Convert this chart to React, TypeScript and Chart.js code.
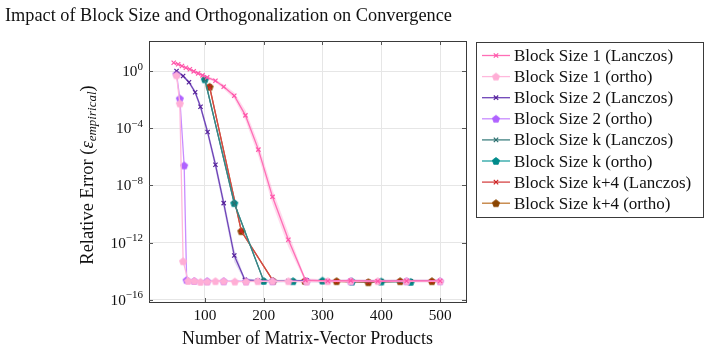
import React, { useEffect, useRef } from "react";
import { Chart, registerables } from "chart.js";
Chart.register(...registerables);

const TITLE = "Impact of Block Size and Orthogonalization on Convergence";
const X_TITLE = "Number of Matrix-Vector Products";
const Y_TITLE_MAIN = "Relative Error (";
const Y_TITLE_SYM = "ε";
const Y_TITLE_SUB = "empirical";
const Y_TITLE_END = ")";
const X_TICKS = [100, 200, 300, 400, 500];
const Y_TICK_EXPONENTS = [0, -4, -8, -12, -16];

const LEGEND_LABELS = [
  "Block Size 1 (Lanczos)",
  "Block Size 1 (ortho)",
  "Block Size 2 (Lanczos)",
  "Block Size 2 (ortho)",
  "Block Size k (Lanczos)",
  "Block Size k (ortho)",
  "Block Size k+4 (Lanczos)",
  "Block Size k+4 (ortho)",
];

// Block size 1, Lanczos
const b1LanczosX = [47, 54.6, 61, 67.7, 74.5, 81, 88.6, 96, 104, 118, 132, 150, 169, 191, 215, 242, 271, 309, 348, 394, 443, 500];
const b1LanczosY = [3.8, 2.95, 2.24, 1.7, 1.32, 0.95, 0.69, 0.5, 0.36, 0.21, 0.079, 0.0186, 7.9e-4, 3.2e-6, 1.6e-9, 1.6e-12, 2.4e-15, 2.1e-15, 2.2e-15, 2.0e-15, 2.1e-15, 2.1e-15];
const b1LanczosLow = [3.3, 2.6, 1.95, 1.45, 1.12, 0.8, 0.57, 0.41, 0.29, 0.16, 0.055, 0.011, 3.5e-4, 1.1e-6, 5e-10, 5e-13, 1.8e-15, 1.7e-15, 1.8e-15, 1.6e-15, 1.7e-15, 1.7e-15];
const b1LanczosHigh = [4.4, 3.4, 2.6, 2.0, 1.55, 1.12, 0.83, 0.61, 0.45, 0.28, 0.115, 0.032, 1.8e-3, 9e-6, 5e-9, 5e-12, 3.2e-15, 2.7e-15, 2.7e-15, 2.5e-15, 2.6e-15, 2.6e-15];

// Block size 1, ortho
const b1OrthoX = [51.8, 57.4, 63, 71.6, 82, 92.6, 104, 118, 132, 151, 170, 190, 215, 242, 273, 309, 348, 394, 443, 500];
const b1OrthoY = [0.5, 5.4e-3, 5e-14, 2.1e-15, 2.1e-15, 1.8e-15, 1.9e-15, 2.0e-15, 2.0e-15, 1.9e-15, 1.9e-15, 2.0e-15, 2.0e-15, 2.0e-15, 1.9e-15, 2.0e-15, 2.0e-15, 2.0e-15, 2.0e-15, 2.0e-15];

// Block size 2, Lanczos
const b2LanczosX = [51.8, 63, 73, 83.5, 92.6, 104.6, 118, 132, 150, 168, 190, 215, 242, 273, 309, 348, 394, 443, 500];
const b2LanczosY = [1.0, 0.45, 0.166, 0.033, 3.2e-3, 5.5e-5, 2.8e-7, 5.8e-10, 1.26e-13, 2.5e-15, 2.2e-15, 2.0e-15, 2.1e-15, 2.2e-15, 2.0e-15, 2.1e-15, 2.0e-15, 2.1e-15, 2.1e-15];
const b2LanczosLow = [0.8, 0.36, 0.125, 0.022, 1.9e-3, 2.8e-5, 1.2e-7, 2.2e-10, 4.5e-14, 1.9e-15, 1.7e-15, 1.6e-15, 1.7e-15, 1.7e-15, 1.6e-15, 1.7e-15, 1.6e-15, 1.7e-15, 1.7e-15];
const b2LanczosHigh = [1.25, 0.56, 0.22, 0.048, 5.2e-3, 1.0e-4, 6e-7, 1.4e-9, 3.5e-13, 3.2e-15, 2.7e-15, 2.5e-15, 2.6e-15, 2.7e-15, 2.5e-15, 2.6e-15, 2.5e-15, 2.6e-15, 2.6e-15];

// Block size 2, ortho
const b2OrthoX = [51.8, 57.4, 64.8, 69, 82, 104, 132, 170, 215, 273, 348, 443, 500];
const b2OrthoY = [0.63, 0.012, 2.5e-7, 2.4e-15, 2.1e-15, 2.0e-15, 2.0e-15, 2.0e-15, 2.0e-15, 2.0e-15, 2.0e-15, 2.0e-15, 2.0e-15];

// Block size k
const bkX = [100, 150, 200, 250, 300, 350, 400, 450];
const bkLanczosY = [0.26, 5.5e-10, 2.1e-15, 2.1e-15, 2.0e-15, 2.0e-15, 2.1e-15, 2.0e-15];
const bkOrthoY = [0.263, 5.8e-10, 2.1e-15, 2.0e-15, 2.2e-15, 1.9e-15, 1.9e-15, 1.8e-15];

// Block size k+4
const bk4X = [108, 162, 216, 270, 324, 378, 432, 486];
const bk4LanczosY = [0.08, 6.5e-12, 2.1e-15, 2.1e-15, 2.0e-15, 1.8e-15, 2.0e-15, 2.0e-15];
const bk4OrthoY = [0.079, 6.3e-12, 2.1e-15, 2.1e-15, 2.0e-15, 1.7e-15, 2.0e-15, 2.0e-15];

const SERIF = "'Liberation Serif', 'DejaVu Serif', serif";

type Style = { line: string; marker: string; shape: "cross" | "pent" };
const STYLES: Style[] = [
  { line: "#ff6eb6", marker: "#ff55aa", shape: "cross" },
  { line: "#ffb8dc", marker: "#ffaed6", shape: "pent" },
  { line: "#6e44b8", marker: "#55229a", shape: "cross" },
  { line: "#c88cff", marker: "#b062ff", shape: "pent" },
  { line: "#3f8080", marker: "#2a6e6e", shape: "cross" },
  { line: "#22a3a3", marker: "#008b8b", shape: "pent" },
  { line: "#d64545", marker: "#cc2222", shape: "cross" },
  { line: "#c07a35", marker: "#8b4500", shape: "pent" },
];

function pentagon(color: string, r: number): HTMLCanvasElement {
  const size = Math.ceil(r * 2 + 2);
  const c = document.createElement("canvas");
  c.width = size;
  c.height = size;
  const ctx = c.getContext("2d")!;
  const cx = size / 2;
  const cy = size / 2 + 0.3;
  ctx.beginPath();
  for (let i = 0; i < 5; i++) {
    const a = -Math.PI / 2 + (i * 2 * Math.PI) / 5;
    const px = cx + r * Math.cos(a);
    const py = cy + r * Math.sin(a);
    if (i === 0) ctx.moveTo(px, py);
    else ctx.lineTo(px, py);
  }
  ctx.closePath();
  ctx.fillStyle = color;
  ctx.fill();
  ctx.strokeStyle = color;
  ctx.lineWidth = 0.8;
  ctx.stroke();
  return c;
}

function pts(xs: number[], ys: number[]) {
  return xs.map((x, i) => ({ x, y: ys[i] }));
}

export default function App() {
  const ref = useRef<HTMLCanvasElement>(null);

  useEffect(() => {
    const canvas = ref.current!;
    const pents = STYLES.map((s) => pentagon(s.marker, 3.8));

    const series = [
      pts(b1LanczosX, b1LanczosY),
      pts(b1OrthoX, b1OrthoY),
      pts(b2LanczosX, b2LanczosY),
      pts(b2OrthoX, b2OrthoY),
      pts(bkX, bkLanczosY),
      pts(bkX, bkOrthoY),
      pts(bk4X, bk4LanczosY),
      pts(bk4X, bk4OrthoY),
    ];

    const mainSets: any[] = series.map((data, i) => {
      const s = STYLES[i];
      return {
        label: LEGEND_LABELS[i],
        data,
        borderColor: s.line,
        backgroundColor: s.marker,
        borderWidth: 1.3,
        pointStyle: s.shape === "cross" ? "crossRot" : pents[i],
        pointRadius: s.shape === "cross" ? 3 : 4,
        pointBorderColor: s.marker,
        pointBackgroundColor: s.marker,
        pointBorderWidth: 1.2,
        fill: false,
        tension: 0,
      };
    });

    const n = mainSets.length;
    const bandSets: any[] = [
      { data: pts(b1LanczosX, b1LanczosLow), borderWidth: 0, pointRadius: 0, fill: false, borderColor: "transparent" },
      { data: pts(b1LanczosX, b1LanczosHigh), borderWidth: 0, pointRadius: 0, fill: n, borderColor: "transparent", backgroundColor: "rgba(255,110,182,0.25)" },
      { data: pts(b2LanczosX, b2LanczosLow), borderWidth: 0, pointRadius: 0, fill: false, borderColor: "transparent" },
      { data: pts(b2LanczosX, b2LanczosHigh), borderWidth: 0, pointRadius: 0, fill: n + 2, borderColor: "transparent", backgroundColor: "rgba(110,68,184,0.2)" },
    ];

    const decor = {
      id: "decor",
      afterDraw(chart: any) {
        const ctx = chart.ctx as CanvasRenderingContext2D;
        const a = chart.chartArea;
        const xs = chart.scales.x;
        const ys = chart.scales.y;
        ctx.save();
        // frame
        ctx.strokeStyle = "#3a3a3a";
        ctx.lineWidth = 1;
        ctx.strokeRect(Math.round(a.left) + 0.5, Math.round(a.top) + 0.5, Math.round(a.right - a.left), Math.round(a.bottom - a.top));
        // tick marks
        ctx.beginPath();
        X_TICKS.forEach((v) => {
          const px = Math.round(xs.getPixelForValue(v)) + 0.5;
          ctx.moveTo(px, a.bottom);
          ctx.lineTo(px, a.bottom - 4);
          ctx.moveTo(px, a.top);
          ctx.lineTo(px, a.top + 4);
        });
        Y_TICK_EXPONENTS.forEach((e) => {
          const py = Math.round(ys.getPixelForValue(Math.pow(10, e))) + 0.5;
          ctx.moveTo(a.left, py);
          ctx.lineTo(a.left + 4, py);
          ctx.moveTo(a.right, py);
          ctx.lineTo(a.right - 4, py);
        });
        ctx.strokeStyle = "#555";
        ctx.stroke();

        ctx.fillStyle = "#111";
        // x tick labels
        ctx.font = `15.3px ${SERIF}`;
        ctx.textAlign = "center";
        ctx.textBaseline = "alphabetic";
        X_TICKS.forEach((v) => {
          ctx.fillText(String(v), xs.getPixelForValue(v), a.bottom + 18);
        });
        // y tick labels
        Y_TICK_EXPONENTS.forEach((e) => {
          const py = ys.getPixelForValue(Math.pow(10, e));
          const sup = e < 0 ? "−" + String(-e) : String(e);
          ctx.font = `11px ${SERIF}`;
          const ws = ctx.measureText(sup).width;
          ctx.font = `15.3px ${SERIF}`;
          const wb = ctx.measureText("10").width;
          const right = a.left - 6;
          ctx.textAlign = "left";
          ctx.fillText("10", right - ws - wb, py + 5);
          ctx.font = `11px ${SERIF}`;
          ctx.fillText(sup, right - ws, py - 1.5);
        });
        // x title
        ctx.font = `17.9px ${SERIF}`;
        ctx.textAlign = "center";
        ctx.fillText(X_TITLE, (a.left + a.right) / 2, 344);
        // y title (rotated)
        ctx.save();
        ctx.translate(93, 175);
        ctx.rotate(-Math.PI / 2);
        ctx.textAlign = "left";
        const fMain = `18.5px ${SERIF}`;
        const fIt = `italic 18.5px ${SERIF}`;
        const fSub = `italic 13px ${SERIF}`;
        ctx.font = fMain;
        const w1 = ctx.measureText(Y_TITLE_MAIN).width;
        const w4 = ctx.measureText(Y_TITLE_END).width;
        ctx.font = fIt;
        const w2 = ctx.measureText(Y_TITLE_SYM).width;
        ctx.font = fSub;
        const w3 = ctx.measureText(Y_TITLE_SUB).width;
        let x0 = -(w1 + w2 + w3 + w4) / 2;
        ctx.font = fMain;
        ctx.fillText(Y_TITLE_MAIN, x0, 0);
        x0 += w1;
        ctx.font = fIt;
        ctx.fillText(Y_TITLE_SYM, x0, 0);
        x0 += w2;
        ctx.font = fSub;
        ctx.fillText(Y_TITLE_SUB, x0, 3);
        x0 += w3;
        ctx.font = fMain;
        ctx.fillText(Y_TITLE_END, x0, 0);
        ctx.restore();
        // title
        ctx.font = `18.3px ${SERIF}`;
        ctx.textAlign = "left";
        ctx.fillText(TITLE, 5, 21);

        // legend
        const lx = a.right + 10;
        const ly = a.top + 1;
        const lw = 227;
        const lh = 175;
        ctx.fillStyle = "#fff";
        ctx.fillRect(lx, ly, lw, lh);
        ctx.strokeStyle = "#3a3a3a";
        ctx.lineWidth = 1;
        ctx.strokeRect(Math.round(lx) + 0.5, Math.round(ly) + 0.5, lw, lh);
        LEGEND_LABELS.forEach((label, i) => {
          const s = STYLES[i];
          const cy = ly + 13.5 + i * 21.1;
          ctx.beginPath();
          ctx.moveTo(lx + 6, cy);
          ctx.lineTo(lx + 34, cy);
          ctx.strokeStyle = s.line;
          ctx.lineWidth = 1.3;
          ctx.stroke();
          const mx = lx + 20;
          if (s.shape === "cross") {
            ctx.beginPath();
            ctx.moveTo(mx - 2.2, cy - 2.2);
            ctx.lineTo(mx + 2.2, cy + 2.2);
            ctx.moveTo(mx + 2.2, cy - 2.2);
            ctx.lineTo(mx - 2.2, cy + 2.2);
            ctx.strokeStyle = s.marker;
            ctx.lineWidth = 1.2;
            ctx.stroke();
          } else {
            const p = pents[i];
            ctx.drawImage(p, mx - p.width / 2, cy - p.height / 2);
          }
          ctx.fillStyle = "#111";
          ctx.font = `17px ${SERIF}`;
          ctx.textAlign = "left";
          ctx.fillText(label, lx + 38, cy + 5.5);
        });
        ctx.restore();
      },
    };

    const chart = new Chart(canvas, {
      type: "line",
      data: { datasets: [...mainSets, ...bandSets] },
      options: {
        animation: false,
        responsive: false,
        maintainAspectRatio: false,
        parsing: true,
        layout: { padding: { top: 41, right: 243, left: 0, bottom: 0 } },
        plugins: { legend: { display: false }, title: { display: false }, tooltip: { enabled: false } },
        scales: {
          x: {
            type: "linear",
            min: 5,
            max: 544,
            ticks: { display: false },
            grid: { color: "#e6e6e6", drawTicks: false, lineWidth: 1 },
            border: { display: false },
            afterBuildTicks: (s: any) => {
              s.ticks = X_TICKS.map((v) => ({ value: v }));
            },
            afterFit: (s: any) => {
              s.height = 47;
            },
          },
          y: {
            type: "logarithmic",
            min: Math.pow(10, -16.15),
            max: Math.pow(10, 2.1),
            ticks: { display: false },
            grid: { color: "#e6e6e6", drawTicks: false, lineWidth: 1 },
            border: { display: false },
            afterBuildTicks: (s: any) => {
              s.ticks = Y_TICK_EXPONENTS.map((e) => ({ value: Math.pow(10, e) }));
            },
            afterFit: (s: any) => {
              s.width = 149;
            },
          },
        },
      } as any,
      plugins: [decor],
    });
    return () => chart.destroy();
  }, []);

  return (
    <div style={{ position: "fixed", left: 0, top: 0, width: 709, height: 349, background: "#fff" }}>
      <canvas ref={ref} width={709} height={349} style={{ width: 709, height: 349, display: "block" }} />
    </div>
  );
}
